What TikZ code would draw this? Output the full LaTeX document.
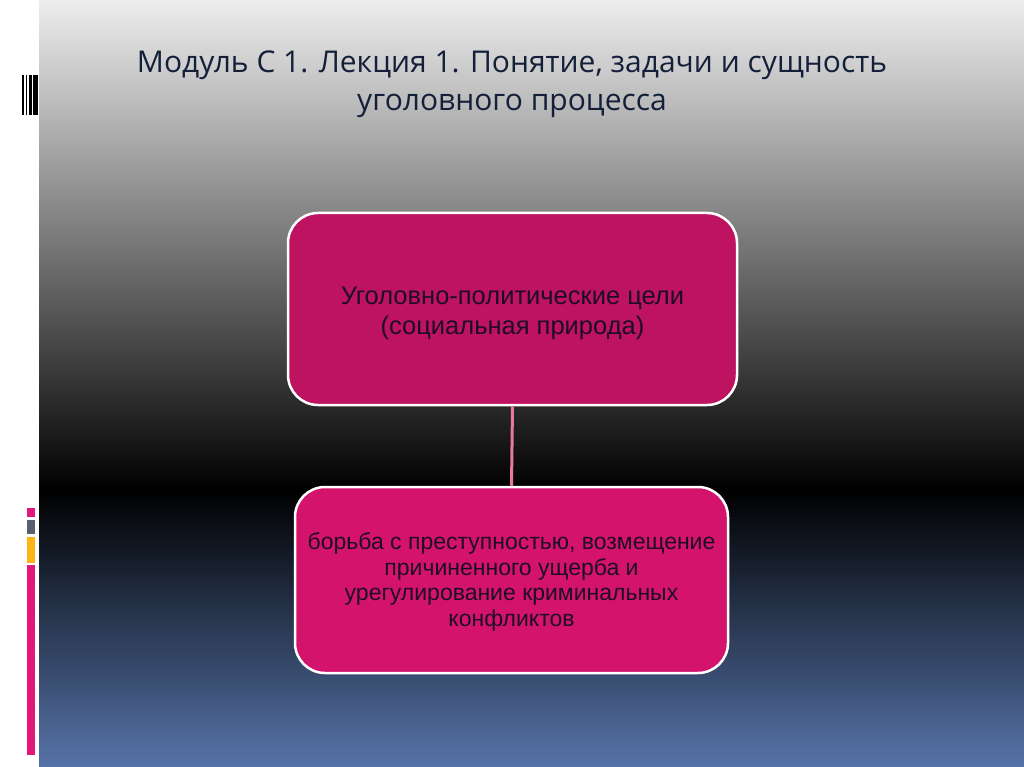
\documentclass[tikz,border=0pt]{standalone}
\usepackage{fontspec}
\setmainfont{Liberation Sans}
\newfontfamily\titlefont{Open Sans}
\usetikzlibrary{positioning}

\definecolor{topgray}{HTML}{EDEDED}
\definecolor{bottomblue}{HTML}{5673A8}
\definecolor{goalmagenta}{HTML}{BD1360}
\definecolor{taskmagenta}{HTML}{D4146C}
\definecolor{linkpink}{HTML}{E8789F}
\definecolor{titlenavy}{HTML}{14203A}
\definecolor{boxtext}{HTML}{1E0C26}
\definecolor{barpink}{HTML}{E2177A}
\definecolor{bargray}{HTML}{56606E}
\definecolor{barorange}{HTML}{FDB515}

\begin{document}
\begin{tikzpicture}
  [x=1pt, y=-1pt,
   goalbox/.style = {draw=white, line width=2.5pt, rounded corners=30pt},
   boxlabel/.style = {align=center, text=boxtext},
   link/.style = {linkpink, line width=3pt}]

% Background
\useasboundingbox (0,0) rectangle (1024,767);
\fill[white] (0,0) rectangle (1024,767);
\shade[top color=topgray, bottom color=black] (39,0) rectangle (1024,490);
\shade[top color=black, bottom color=bottomblue] (39,490) rectangle (1024,767);

% Left bars
\fill[black] (22,75) rectangle (23.5,115);
\fill[black] (25.5,75) rectangle (27,115);
\fill[black] (28.5,75) rectangle (31.5,115);
\fill[black] (33,75) rectangle (38,115);
\fill[barpink] (27,508) rectangle (35,517);
\fill[bargray] (27,520) rectangle (35,534);
\fill[barorange] (27,537) rectangle (35,563);
\fill[barpink] (27,565) rectangle (35,755);

% Title
\node[text=titlenavy, align=center, font=\titlefont\fontsize{30}{38}\selectfont]
  (title) at (512,84) {Модуль С 1. Лекция 1. Понятие, задачи и сущность\\уголовного процесса};

% Boxes
\node[goalbox, fill=goalmagenta, minimum width=449pt, minimum height=192pt]
  (goals) at (512.5,309) {};
\node[boxlabel, font=\fontsize{25.5}{30}\selectfont]
  (goalstext) at ([yshift=-4pt]goals.center) {Уголовно-политические цели\\(социальная природа)};
\node[goalbox, fill=taskmagenta, minimum width=433pt, minimum height=186pt]
  (tasks) at (511.5,580) {};
\node[boxlabel, font=\fontsize{23}{25.7}\selectfont]
  (taskstext) at ([yshift=-2pt]tasks.center) {борьба с преступностью, возмещение\\причиненного ущерба и\\урегулирование криминальных\\конфликтов};

% Connector
\draw[link] (goals.south) -- (tasks.north);

\end{tikzpicture}
\end{document}
